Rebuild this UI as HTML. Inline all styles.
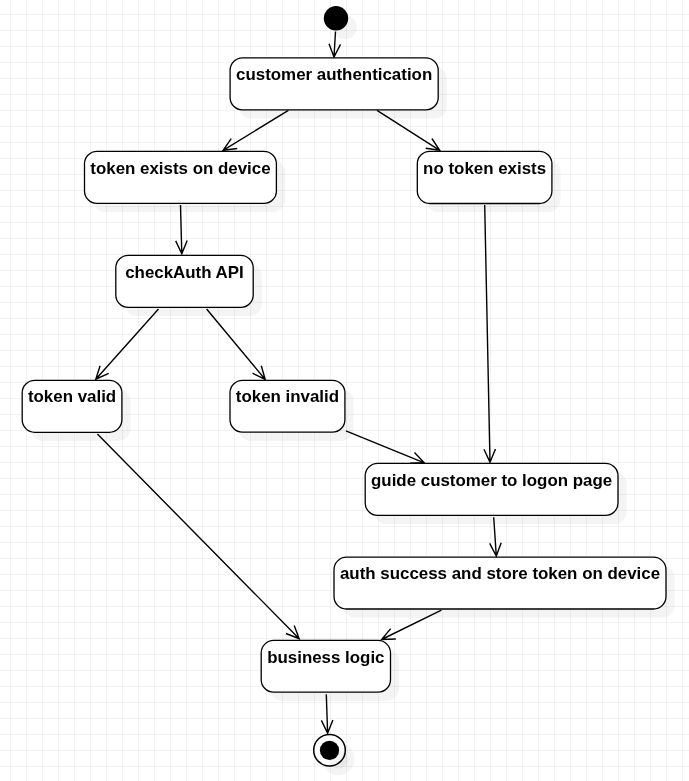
<!DOCTYPE html>
<html><head><meta charset="utf-8"><style>
html,body{margin:0;padding:0;background:#fff;}
body{width:689px;height:781px;overflow:hidden;}
svg{display:block;}
text{font-family:"Liberation Sans",sans-serif;font-weight:bold;font-size:16.9px;fill:#000;}
</style></head><body>
<svg width="689" height="781" viewBox="0 0 689 781">
<defs>
<pattern id="g" x="0" y="0" width="16" height="16" patternUnits="userSpaceOnUse">
<rect x="10" y="0" width="1" height="16" fill="rgba(0,0,0,0.05)"/>
<rect x="0" y="14" width="16" height="1" fill="rgba(0,0,0,0.05)"/>
</pattern>
<filter id="b" x="-20%" y="-20%" width="140%" height="140%"><feGaussianBlur stdDeviation="0.6"/></filter>
<filter id="n"><feOffset dx="0" dy="0"/></filter>
</defs>
<rect width="689" height="781" fill="#fff"/>
<rect width="689" height="781" fill="url(#g)"/>

<g filter="url(#b)">
<rect x="238.80" y="66.50" width="208.10" height="52.10" rx="12.5" fill="rgba(0,0,0,0.042)"/>
<rect x="93.20" y="160.10" width="191.90" height="52.00" rx="12.5" fill="rgba(0,0,0,0.042)"/>
<rect x="426.00" y="160.00" width="134.60" height="52.20" rx="12.5" fill="rgba(0,0,0,0.042)"/>
<rect x="124.50" y="264.00" width="137.40" height="52.10" rx="12.5" fill="rgba(0,0,0,0.042)"/>
<rect x="30.90" y="389.05" width="99.70" height="51.95" rx="12.5" fill="rgba(0,0,0,0.042)"/>
<rect x="238.70" y="389.00" width="114.90" height="51.90" rx="12.5" fill="rgba(0,0,0,0.042)"/>
<rect x="373.90" y="472.00" width="252.80" height="52.10" rx="12.5" fill="rgba(0,0,0,0.042)"/>
<rect x="342.70" y="565.90" width="332.00" height="51.80" rx="12.5" fill="rgba(0,0,0,0.042)"/>
<rect x="269.90" y="649.15" width="129.30" height="51.75" rx="12.5" fill="rgba(0,0,0,0.042)"/>
<circle cx="344.7" cy="27.0" r="12.2" fill="rgba(0,0,0,0.042)"/>
<circle cx="338.09999999999997" cy="758.7" r="16.5" fill="rgba(0,0,0,0.042)"/>
</g>
<rect x="230.1" y="57.8" width="208.10" height="52.10" rx="12.5" fill="#fff" stroke="#000" stroke-width="1.3"/>
<rect x="84.5" y="151.4" width="191.90" height="52.00" rx="12.5" fill="#fff" stroke="#000" stroke-width="1.3"/>
<rect x="417.3" y="151.3" width="134.60" height="52.20" rx="12.5" fill="#fff" stroke="#000" stroke-width="1.3"/>
<rect x="115.8" y="255.3" width="137.40" height="52.10" rx="12.5" fill="#fff" stroke="#000" stroke-width="1.3"/>
<rect x="22.2" y="380.35" width="99.70" height="51.95" rx="12.5" fill="#fff" stroke="#000" stroke-width="1.3"/>
<rect x="230" y="380.3" width="114.90" height="51.90" rx="12.5" fill="#fff" stroke="#000" stroke-width="1.3"/>
<rect x="365.2" y="463.3" width="252.80" height="52.10" rx="12.5" fill="#fff" stroke="#000" stroke-width="1.3"/>
<rect x="334" y="557.2" width="332.00" height="51.80" rx="12.5" fill="#fff" stroke="#000" stroke-width="1.3"/>
<rect x="261.2" y="640.45" width="129.30" height="51.75" rx="12.5" fill="#fff" stroke="#000" stroke-width="1.3"/>
<g filter="url(#n)">
<text x="334.15" y="80" text-anchor="middle">customer authentication</text>
<text x="180.45" y="174" text-anchor="middle">token exists on device</text>
<text x="484.60" y="174" text-anchor="middle">no token exists</text>
<text x="184.50" y="278" text-anchor="middle">checkAuth API</text>
<text x="72.05" y="402" text-anchor="middle">token valid</text>
<text x="287.45" y="402" text-anchor="middle">token invalid</text>
<text x="491.60" y="486" text-anchor="middle">guide customer to logon page</text>
<text x="500.00" y="579" text-anchor="middle">auth success and store token on device</text>
<text x="325.85" y="663" text-anchor="middle">business logic</text>
</g>
<circle cx="336" cy="18.3" r="12.2" fill="#000"/>
<circle cx="329.5" cy="750.2" r="15.8" fill="#fff" stroke="#000" stroke-width="1.5"/>
<circle cx="338.2" cy="759.1" r="9.6" fill="rgba(0,0,0,0.042)" filter="url(#b)"/>
<circle cx="329.5" cy="750.4" r="9.6" fill="#000"/>
<path d="M335.5,31.5L334.0,57.0M340.5,44.4L334.0,57.0L329.0,43.7" fill="none" stroke="#000" stroke-width="1.4" stroke-linejoin="miter" stroke-linecap="butt"/>
<path d="M288.4,110.4L223.1,150.3M237.2,148.5L223.1,150.3L231.2,138.6" fill="none" stroke="#000" stroke-width="1.4" stroke-linejoin="miter" stroke-linecap="butt"/>
<path d="M377.0,110.4L439.7,150.3M431.9,138.5L439.7,150.3L425.7,148.2" fill="none" stroke="#000" stroke-width="1.4" stroke-linejoin="miter" stroke-linecap="butt"/>
<path d="M180.5,205.0L181.8,253.7M187.2,240.6L181.8,253.7L175.7,240.9" fill="none" stroke="#000" stroke-width="1.4" stroke-linejoin="miter" stroke-linecap="butt"/>
<path d="M484.7,205.0L490.0,462.2M495.5,449.1L490.0,462.2L484.0,449.3" fill="none" stroke="#000" stroke-width="1.4" stroke-linejoin="miter" stroke-linecap="butt"/>
<path d="M158.5,309.0L95.8,379.2M108.7,373.4L95.8,379.2L100.1,365.7" fill="none" stroke="#000" stroke-width="1.4" stroke-linejoin="miter" stroke-linecap="butt"/>
<path d="M206.6,309.0L265.2,379.5M261.3,365.8L265.2,379.5L252.5,373.2" fill="none" stroke="#000" stroke-width="1.4" stroke-linejoin="miter" stroke-linecap="butt"/>
<path d="M345.9,430.9L424.3,462.8M414.5,452.6L424.3,462.8L410.1,463.3" fill="none" stroke="#000" stroke-width="1.4" stroke-linejoin="miter" stroke-linecap="butt"/>
<path d="M97.4,434.1L299.2,638.7M294.2,625.4L299.2,638.7L286.0,633.5" fill="none" stroke="#000" stroke-width="1.4" stroke-linejoin="miter" stroke-linecap="butt"/>
<path d="M493.7,517.2L496.3,556.0M501.2,542.7L496.3,556.0L489.7,543.4" fill="none" stroke="#000" stroke-width="1.4" stroke-linejoin="miter" stroke-linecap="butt"/>
<path d="M441.4,610.2L381.6,639.5M395.8,639.0L381.6,639.5L390.7,628.6" fill="none" stroke="#000" stroke-width="1.4" stroke-linejoin="miter" stroke-linecap="butt"/>
<path d="M326.3,694.2L327.6,733.2M332.9,720.0L327.6,733.2L321.4,720.4" fill="none" stroke="#000" stroke-width="1.4" stroke-linejoin="miter" stroke-linecap="butt"/>
</svg></body></html>
